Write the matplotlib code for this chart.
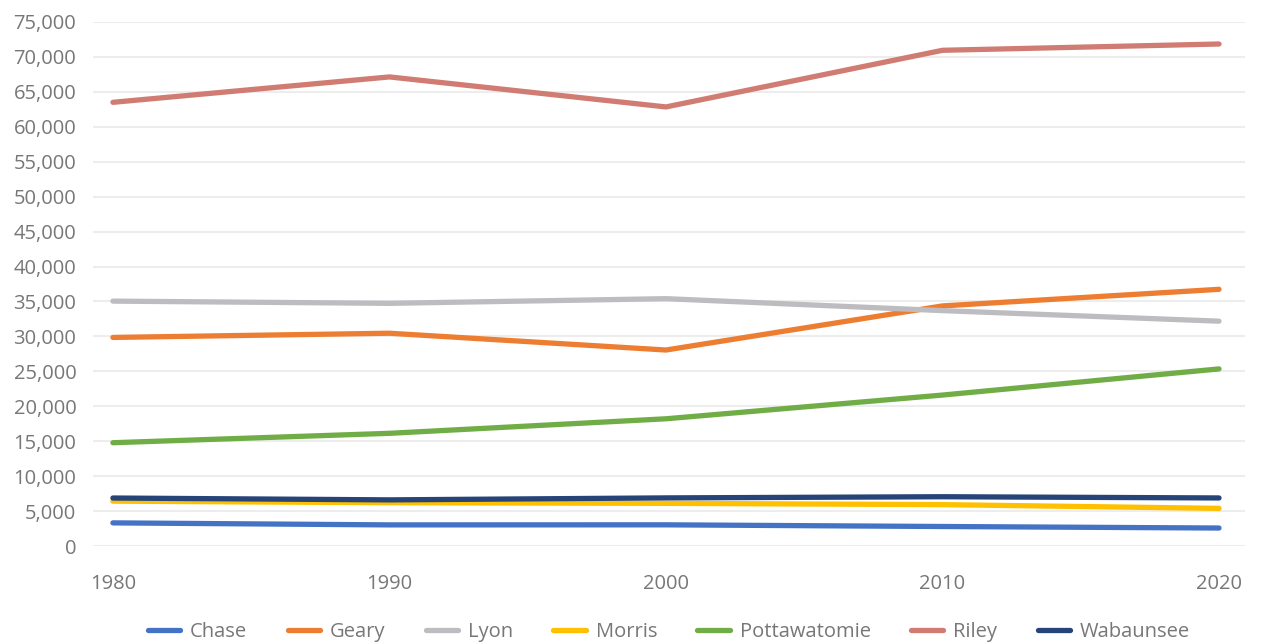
import matplotlib.pyplot as plt
from matplotlib.ticker import FuncFormatter

plt.rcParams['font.family'] = ['Open Sans', 'DejaVu Sans']

years = [1980, 1990, 2000, 2010, 2020]
counties = ['Chase', 'Geary', 'Lyon', 'Morris', 'Pottawatomie', 'Riley', 'Wabaunsee']
chase = [3309, 3021, 3030, 2790, 2572]
geary = [29852, 30453, 28050, 34362, 36739]
lyon = [35050, 34732, 35400, 33690, 32179]
morris = [6419, 6198, 6104, 5923, 5386]
pottawatomie = [14782, 16128, 18209, 21604, 25348]
riley = [63505, 67139, 62843, 70950, 71850]
wabaunsee = [6867, 6603, 6885, 7053, 6877]

series = [chase, geary, lyon, morris, pottawatomie, riley, wabaunsee]
colors = ['#4472C4', '#ED7D31', '#BDBDC1', '#FFC000', '#70AD47', '#D07C72', '#264478']

fig = plt.figure(figsize=(12.61, 6.42), dpi=100)
ax = fig.add_axes([93 / 1261, 1 - 546 / 642, (1245 - 93) / 1261, (546 - 22) / 642])

for name, vals, c in zip(counties, series, colors):
    ax.plot(years, vals, color=c, lw=3.8, solid_capstyle='round',
            solid_joinstyle='round', label=name)

ax.set_ylim(0, 75000)
ax.set_xlim(1979.28, 2020.94)
ax.set_yticks(range(0, 75001, 5000))
ax.set_xticks(years)
ax.yaxis.set_major_formatter(FuncFormatter(lambda v, p: f'{int(v):,}'))
ax.grid(axis='y', color='#EDEDED', lw=1.5)
ax.set_axisbelow(True)
for s in ax.spines.values():
    s.set_visible(False)
ax.tick_params(length=0, labelsize=14.5, colors='#777777')
ax.tick_params(axis='y', pad=12)
ax.tick_params(axis='x', pad=20)

leg = ax.legend(loc='center', bbox_to_anchor=(0.5, -0.165), ncol=7, frameon=False,
                fontsize=14.5, handlelength=1.6, handletextpad=0.5, columnspacing=2.0)
for t in leg.get_texts():
    t.set_color('#777777')

fig.savefig('out.png', dpi=100, facecolor='white')
